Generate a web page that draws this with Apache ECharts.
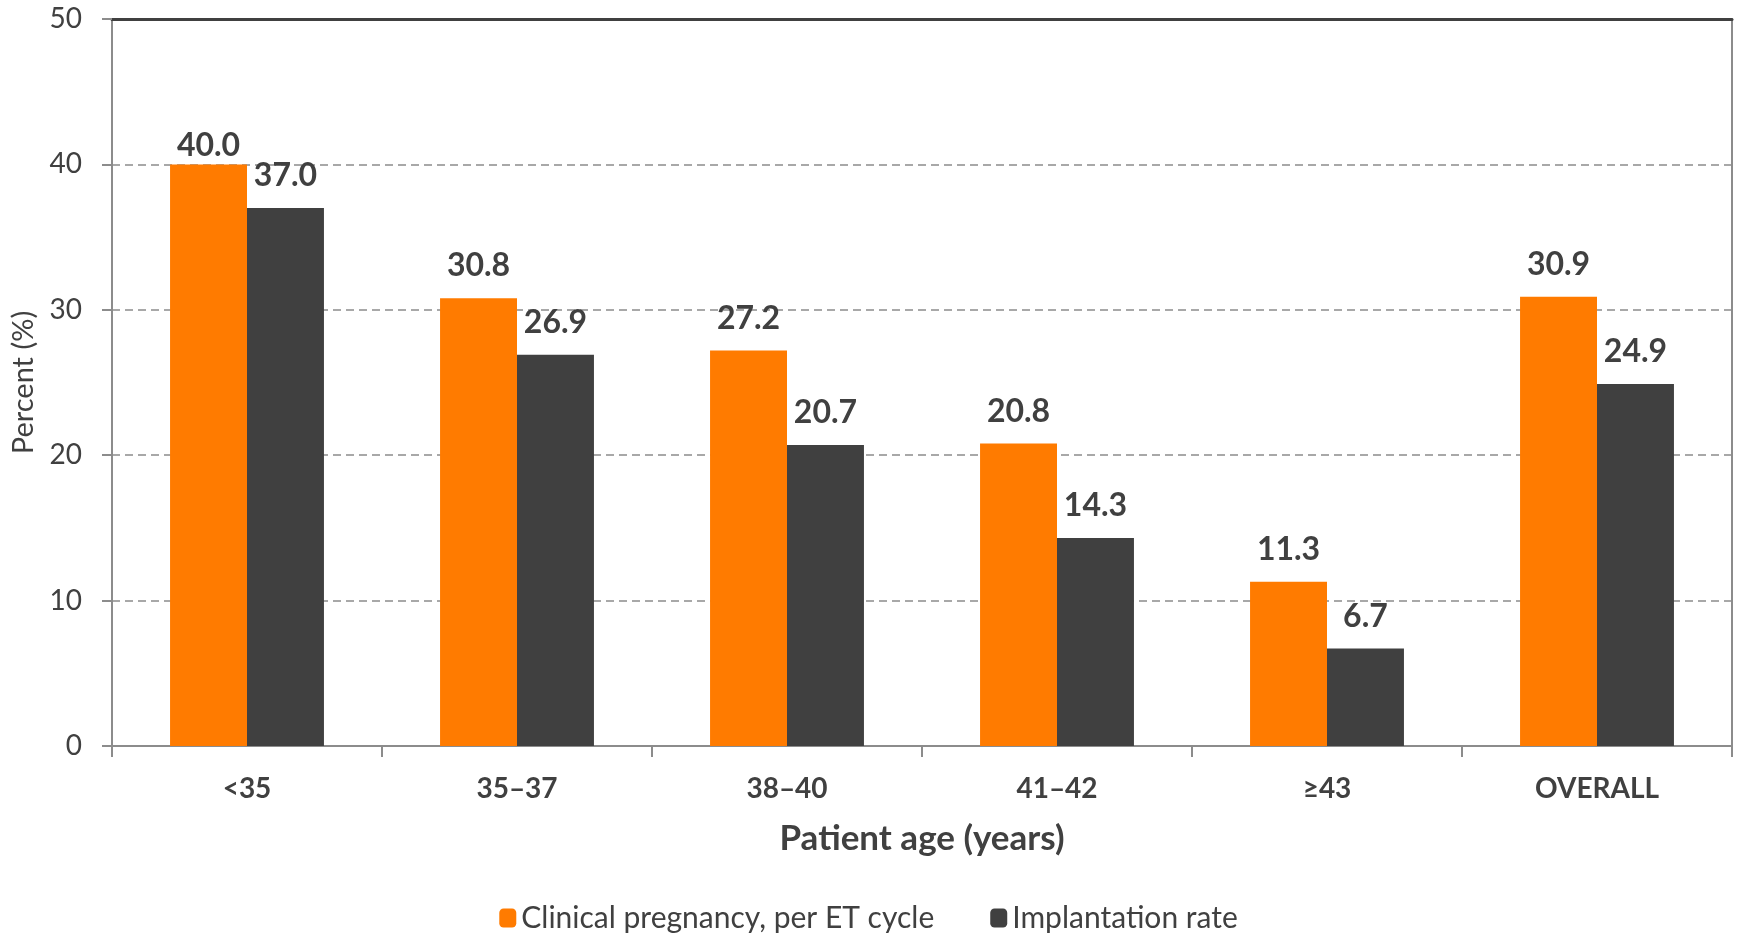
<!DOCTYPE html>
<html>
<head>
<meta charset="utf-8">
<script src="https://cdn.jsdelivr.net/npm/echarts@6/dist/echarts.min.js"></script>
<style>
    html, body { margin: 0; padding: 0; background: #fff; }
    #chart { width: 1737px; height: 935px; }
</style>
</head>
<body>
<div id="chart"></div>
<script>
// 年龄分组
var categories = ['<35', '35\u201337', '38\u201340', '41\u201342', '\u226543', 'OVERALL'];
var pregnancyName = 'Clinical pregnancy, per ET cycle';
var implantName = 'Implantation rate';
var pregnancyData = [40.0, 30.8, 27.2, 20.8, 11.3, 30.9];
var implantData = [37.0, 26.9, 20.7, 14.3, 6.7, 24.9];
var yTicks = [0, 10, 20, 30, 40, 50];

var textColor = '#404040';
var fontName = 'Lato';

function drawChart(id) {
    var myChart = echarts.init(document.getElementById(id));

    // 40.0 的标签离柱子更近
    var pregnancySeries = pregnancyData.map(function (v, i) {
        if (i === 0) {
            return { value: v, label: { distance: 3 } };
        }
        return v;
    });

    var labelStyle = {
        show: true,
        position: 'top',
        distance: 16,
        fontFamily: fontName,
        fontWeight: 'bold',
        fontSize: 32,
        color: textColor,
        formatter: function (p) { return p.value.toFixed(1); }
    };

    var option = {
        animation: false,
        textStyle: { fontFamily: fontName },
        legend: {
            bottom: -3,
            left: 'center',
            itemWidth: 17,
            itemHeight: 19,
            itemGap: 56,
            textStyle: { fontFamily: fontName, fontSize: 30, color: textColor },
            data: [pregnancyName, implantName]
        },
        grid: {
            left: 112,
            right: 5,
            top: 19,
            bottom: 189
        },
        xAxis: [
            {
                type: 'category',
                data: categories,
                name: 'Patient age (years)',
                nameLocation: 'middle',
                nameGap: 75,
                nameTextStyle: { fontFamily: fontName, fontWeight: 'bold', fontSize: 35, color: textColor },
                axisLine: { lineStyle: { color: '#8c8c8c', width: 2 } },
                axisTick: { show: true, length: 11, lineStyle: { color: '#8c8c8c', width: 2 } },
                axisLabel: { margin: 29, fontFamily: fontName, fontWeight: 'bold', fontSize: 28, color: textColor }
            },
            {
                // 上边框
                type: 'category',
                position: 'top',
                data: categories,
                axisLine: { show: true, onZero: false, lineStyle: { color: '#404040', width: 3 } },
                axisTick: { show: false },
                axisLabel: { show: false }
            }
        ],
        yAxis: [
            {
                type: 'value',
                min: yTicks[0],
                max: yTicks[yTicks.length - 1],
                interval: 10,
                name: 'Percent (%)',
                nameLocation: 'middle',
                nameGap: 72,
                nameTextStyle: { fontFamily: fontName, fontSize: 29, color: textColor },
                axisLine: { show: true, lineStyle: { color: '#8c8c8c', width: 2 } },
                axisTick: { show: true, length: 10, lineStyle: { color: '#8c8c8c', width: 2 } },
                axisLabel: { margin: 30, fontFamily: fontName, fontSize: 28, color: textColor },
                splitLine: {
                    show: true,
                    lineStyle: { color: '#8c8c8c', width: 1.5, type: [8, 5] }
                }
            },
            {
                // 右边框
                type: 'value',
                position: 'right',
                min: yTicks[0],
                max: yTicks[yTicks.length - 1],
                interval: 10,
                axisLine: { show: true, onZero: false, lineStyle: { color: '#8c8c8c', width: 2 } },
                axisTick: { show: false },
                axisLabel: { show: false },
                splitLine: { show: false }
            }
        ],
        series: [
            {
                name: pregnancyName,
                type: 'bar',
                barGap: '0%',
                barCategoryGap: '43%',
                itemStyle: { color: '#ff7b00' },
                label: labelStyle,
                data: pregnancySeries
            },
            {
                name: implantName,
                type: 'bar',
                itemStyle: { color: '#404040' },
                label: labelStyle,
                data: implantData
            }
        ]
    };

    myChart.setOption(option);
}

drawChart('chart');
</script>
</body>
</html>
